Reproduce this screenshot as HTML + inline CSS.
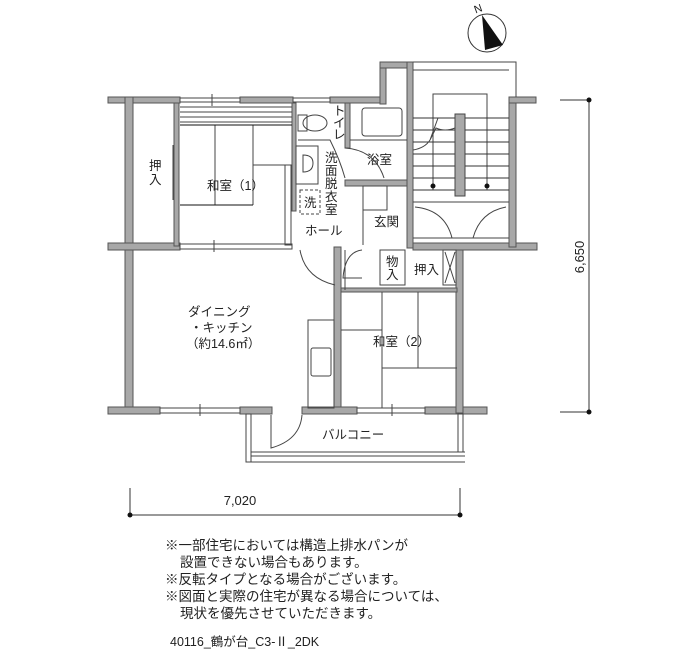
<!DOCTYPE html>
<html><head><meta charset="utf-8"><style>
body{margin:0;background:#fff;width:700px;height:650px;overflow:hidden}
svg{display:block}
text{font-family:"Liberation Sans","Noto Sans CJK JP",sans-serif;fill:#222}
</style></head><body>
<svg width="700" height="650" viewBox="0 0 700 650" xmlns="http://www.w3.org/2000/svg">
<g fill="#a8a8a8" stroke="#555" stroke-width="1">
<rect x="108" y="97" width="72" height="6"/>
<rect x="240" y="97" width="53" height="6"/>
<rect x="330" y="97" width="53" height="6"/>
<rect x="125" y="97" width="8" height="316"/>
<rect x="108" y="243" width="72" height="7"/>
<rect x="108" y="407" width="52" height="7"/>
<rect x="240" y="407" width="32" height="7"/>
<rect x="302" y="407" width="55" height="7"/>
<rect x="425" y="407" width="62" height="7"/>
<rect x="456" y="245" width="7" height="168"/>
<rect x="413" y="243" width="124" height="7"/>
<rect x="334" y="247" width="7" height="160"/>
<rect x="380" y="62" width="6" height="42"/>
<rect x="380" y="62" width="33" height="6"/>
<rect x="407" y="62" width="6" height="186"/>
<rect x="345" y="103" width="5" height="45"/>
<rect x="345" y="180" width="62" height="6"/>
<rect x="509" y="97" width="7" height="150"/>
<rect x="509" y="97" width="27" height="6"/>
<rect x="292" y="103" width="4" height="108"/>
<rect x="174" y="103" width="5" height="143"/>
<rect x="341" y="288" width="116" height="4"/>
</g>
<g fill="none" stroke="#444" stroke-width="1">
<rect x="180" y="98" width="60" height="4"/><line x1="212" y1="94" x2="212" y2="106"/>
<rect x="293" y="98" width="37" height="4"/>
<rect x="180" y="244" width="112" height="5"/><line x1="214" y1="240" x2="214" y2="252"/>
<rect x="160" y="408" width="80" height="5"/><line x1="200" y1="404" x2="200" y2="416"/>
<rect x="357" y="408" width="68" height="5"/><line x1="392" y1="404" x2="392" y2="416"/>
<line x1="180" y1="107" x2="292" y2="107"/><line x1="180" y1="112" x2="292" y2="112"/>
<line x1="180" y1="117" x2="292" y2="117"/><line x1="180" y1="122" x2="292" y2="122"/>
<line x1="215" y1="125" x2="215" y2="205"/><line x1="253" y1="125" x2="253" y2="205"/>
<line x1="253" y1="165" x2="292" y2="165"/>
<line x1="180" y1="205" x2="253" y2="205" stroke="#111"/>
<line x1="180" y1="125" x2="292" y2="125" stroke="#111"/>
<line x1="173" y1="145" x2="173" y2="200"/>
<ellipse cx="315" cy="123" rx="12" ry="8"/>
<rect x="298" y="115" width="9" height="16"/>
<path d="M298 140 L330 140 Q340 160 345 178"/>
<rect x="296" y="146" width="22" height="38"/>
<path d="M303 155 L303 172 Q313 172 313 163 Q313 155 303 155Z"/>
<rect x="300" y="190" width="20" height="24" stroke-dasharray="3,2"/>
<rect x="285" y="165" width="6" height="80"/>
<rect x="362" y="108" width="40" height="28" rx="3"/>
<line x1="350" y1="140" x2="407" y2="140"/>
<path d="M345 148 Q375 150 384 178"/>
<line x1="363" y1="186" x2="363" y2="245"/>
<rect x="363" y="186" width="24" height="24"/>
<path d="M300 250 Q305 278 335 285"/>
<line x1="345" y1="250" x2="345" y2="290"/>
<path d="M362 250 Q345 252 343 278 L362 278"/>
<rect x="380" y="250" width="25" height="35"/>
<rect x="443" y="250" width="13" height="35"/>
<path d="M445 252 L455 283 M455 252 L445 283"/>
<line x1="382" y1="292" x2="382" y2="408"/><line x1="418" y1="292" x2="418" y2="368"/>
<line x1="341" y1="330" x2="382" y2="330"/><line x1="382" y1="368" x2="457" y2="368"/>
<rect x="308" y="320" width="26" height="88"/>
<rect x="311" y="348" width="20" height="28" rx="2"/>
<rect x="246" y="414" width="5" height="48"/>
<line x1="251" y1="452" x2="465" y2="452"/><line x1="246" y1="462" x2="465" y2="462"/>
<line x1="251" y1="456" x2="465" y2="456"/>
<path d="M271 415 L271 448 Q300 440 302 415"/>
<rect x="458" y="414" width="5" height="38"/>
<path d="M413 62 L516 62 L516 97"/>
<path d="M413 70 L509 70"/>
<rect x="433" y="94" width="54" height="96"/>
<g stroke="#333">
<line x1="413" y1="118" x2="509" y2="118"/><line x1="413" y1="130" x2="509" y2="130"/>
<line x1="413" y1="142" x2="509" y2="142"/><line x1="413" y1="154" x2="509" y2="154"/>
<line x1="413" y1="166" x2="509" y2="166"/><line x1="413" y1="178" x2="509" y2="178"/>
<line x1="413" y1="190" x2="509" y2="190"/>
</g>
<rect x="455" y="114" width="10" height="82" fill="#a8a8a8"/>
<path d="M413 150 Q425 148 430 140 L438 118 M430 140 L436 128 Q445 132 455 128"/>
<path d="M413 202 L509 202 M413 238 L509 238"/>
<path d="M415 207 Q445 210 452 238"/>
<path d="M506 207 Q480 212 473 238"/>
</g>
<circle cx="433" cy="186" r="2.5" fill="#111"/><circle cx="487" cy="186" r="2.5" fill="#111"/>
<circle cx="487" cy="33" r="19" fill="#fff" stroke="#333"/>
<path d="M482 15 L503 45 L485 50Z" fill="#111"/>
<text x="474" y="12" font-size="11" transform="rotate(-20 479 8)">N</text>
<g stroke="#333" fill="none">
<line x1="589" y1="100" x2="589" y2="412"/><line x1="560" y1="100" x2="589" y2="100"/><line x1="560" y1="412" x2="589" y2="412"/>
<line x1="130" y1="515" x2="460" y2="515"/><line x1="130" y1="488" x2="130" y2="515"/><line x1="460" y1="488" x2="460" y2="515"/>
</g>
<g fill="#111"><circle cx="589" cy="100" r="2.5"/><circle cx="589" cy="412" r="2.5"/><circle cx="130" cy="515" r="2.5"/><circle cx="460" cy="515" r="2.5"/></g>
<text x="0" y="0" font-size="13" text-anchor="middle" transform="translate(584,257) rotate(-90)">6,650</text>
<text x="240" y="505" font-size="13" text-anchor="middle">7,020</text>
<g font-size="12.5">
<text x="149" y="170">押</text><text x="149" y="184">入</text>
<text x="207" y="190">和室（1）</text>
<text x="305" y="235">ホール</text>
<text x="325" y="162">洗</text><text x="325" y="175">面</text><text x="325" y="188">脱</text><text x="325" y="201">衣</text><text x="325" y="214">室</text>
<text x="333" y="115">ト</text><text x="333" y="127">イ</text><text x="333" y="139">レ</text>
<text x="304" y="207">洗</text>
<text x="367" y="164">浴室</text>
<text x="374" y="226">玄関</text>
<text x="386" y="266">物</text><text x="386" y="279">入</text>
<text x="414" y="274">押入</text>
<text x="188" y="316">ダイニング</text>
<text x="190" y="332">・キッチン</text>
<text x="186" y="348">（約14.6㎡）</text>
<text x="373" y="346">和室（2）</text>
<text x="322" y="439">バルコニー</text>
</g>
<g font-size="13.5">
<text x="165" y="550">※一部住宅においては構造上排水パンが</text>
<text x="180" y="567">設置できない場合もあります。</text>
<text x="165" y="584">※反転タイプとなる場合がございます。</text>
<text x="165" y="601">※図面と実際の住宅が異なる場合については、</text>
<text x="180" y="618">現状を優先させていただきます。</text>
</g>
<text x="170" y="646" font-size="12.5">40116_鶴が台_C3-Ⅱ_2DK</text>
</svg>
</body></html>
